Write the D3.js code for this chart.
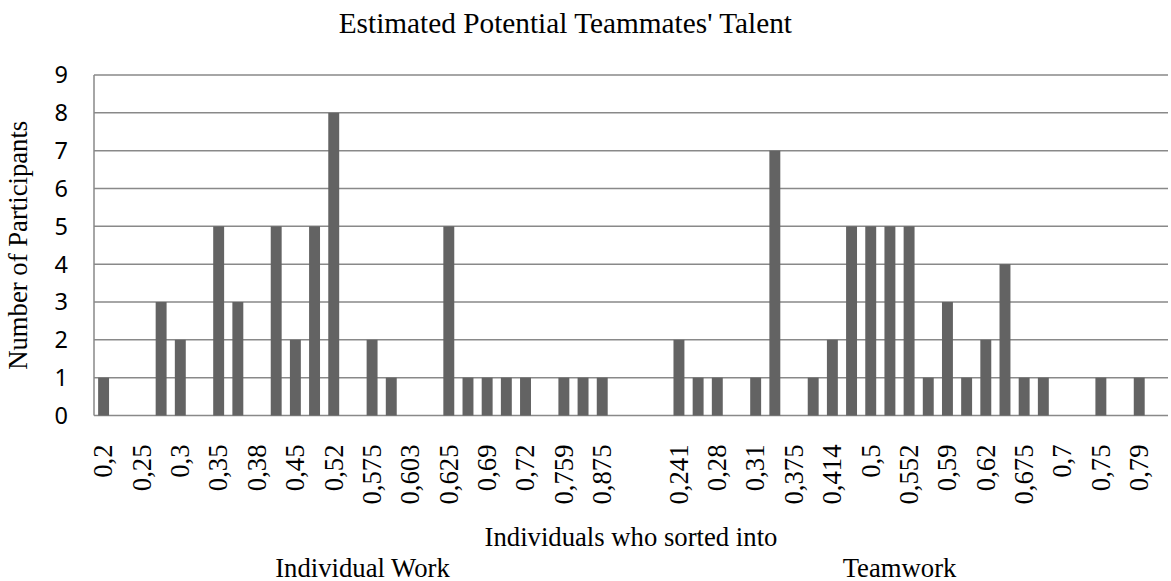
<!DOCTYPE html>
<html>
<head>
<meta charset="utf-8">
<script src="https://cdn.jsdelivr.net/npm/d3@7"></script>
<style>
  body { margin: 0; background: #fff; }
  .grid line { stroke: #898989; stroke-width: 1.5; }
  .bar { fill: #636363; }
  .serif { font-family: "Liberation Serif", "Times New Roman", serif; fill: #000; }
  .ylab { font-family: "Noto Sans", sans-serif; font-size: 23.5px; fill: #000; }
</style>
</head>
<body>
<svg class="chart" width="1171" height="581"></svg>
<script>
// Individual Work categories (every other one is labelled on the axis)
const individualLabels = ["0,2", "", "0,25", "", "0,3", "", "0,35", "", "0,38", "", "0,45", "", "0,52", "",
    "0,575", "", "0,603", "", "0,625", "", "0,69", "", "0,72", "", "0,759", "", "0,875", ""];
const individualCounts = [1, 0, 0, 3, 2, 0, 5, 3, 0, 5, 2, 5, 8, 0,
    2, 1, 0, 0, 5, 1, 1, 1, 1, 0, 1, 1, 1, 0];

// Teamwork categories
const teamworkLabels = ["", "", "0,241", "", "0,28", "", "0,31", "", "0,375", "", "0,414", "", "0,5", "",
    "0,552", "", "0,59", "", "0,62", "", "0,675", "", "0,7", "", "0,75", "", "0,79", ""];
const teamworkCounts = [0, 0, 2, 1, 1, 0, 1, 7, 0, 1, 2, 5, 5, 5,
    5, 1, 3, 1, 2, 4, 1, 1, 0, 0, 1, 0, 1, 0];

const groupNames = ["Individual Work", "Teamwork"];
const yTicks = [0, 1, 2, 3, 4, 5, 6, 7, 8, 9];

const data = individualLabels.map((l, i) => ({ key: "I" + i, group: 0, label: l, value: individualCounts[i] }))
    .concat(teamworkLabels.map((l, i) => ({ key: "T" + i, group: 1, label: l, value: teamworkCounts[i] })));

const svg = d3.select(".chart"),
    margin = { top: 75, right: 3, bottom: 165.5, left: 94 },
    width = +svg.attr("width") - margin.left - margin.right,
    height = +svg.attr("height") - margin.top - margin.bottom,
    g = svg.append("g").attr("transform", `translate(${margin.left},${margin.top})`);

const x = d3.scaleBand()
    .domain(data.map(d => d.key))
    .range([0, width])
    .paddingInner(0.43)
    .paddingOuter(0.215);

const y = d3.scaleLinear()
    .domain([0, 9])
    .range([height, 0]);

// gridlines
g.append("g")
    .attr("class", "grid")
    .selectAll("line")
    .data(yTicks)
    .enter().append("line")
    .attr("x1", 0)
    .attr("x2", width)
    .attr("y1", d => y(d))
    .attr("y2", d => y(d));

// left axis line
g.append("line")
    .attr("x1", 0).attr("x2", 0)
    .attr("y1", y(9)).attr("y2", y(0))
    .attr("stroke", "#898989").attr("stroke-width", 1.5);

g.selectAll(".ylab")
    .data(yTicks)
    .enter().append("text")
    .attr("class", "ylab")
    .attr("x", -26)
    .attr("y", d => y(d))
    .attr("dy", "0.36em")
    .attr("text-anchor", "end")
    .text(d => d);

g.selectAll(".bar")
    .data(data.filter(d => d.value > 0))
    .enter().append("rect")
    .attr("class", "bar")
    .attr("x", d => x(d.key))
    .attr("width", x.bandwidth())
    .attr("y", d => y(d.value))
    .attr("height", d => height - y(d.value));

// category labels, rotated
g.selectAll(".xlab")
    .data(data.filter(d => d.label !== ""))
    .enter().append("text")
    .attr("class", "serif xlab")
    .style("font-size", "26.7px")
    .attr("text-anchor", "end")
    .attr("transform", d => `translate(${x(d.key) + x.bandwidth() / 2},${height + 29}) rotate(-90)`)
    .attr("dy", "0.33em")
    .text(d => d.label);

// group labels, centred under each group of categories
g.selectAll(".glab")
    .data(groupNames)
    .enter().append("text")
    .attr("class", "serif glab")
    .style("font-size", "26.7px")
    .attr("text-anchor", "middle")
    .attr("x", (name, i) => {
        const keys = data.filter(d => d.group === i).map(d => d.key);
        return (x(keys[0]) + x(keys[keys.length - 1]) + x.bandwidth()) / 2;
    })
    .attr("y", height + 161)
    .text(d => d);

// axis title
g.append("text")
    .attr("class", "serif")
    .style("font-size", "26.7px")
    .attr("x", width / 2)
    .attr("y", height + 130)
    .attr("text-anchor", "middle")
    .text("Individuals who sorted into");

svg.append("text")
    .attr("class", "serif")
    .style("font-size", "26.7px")
    .attr("transform", `translate(27,${margin.top + height / 2}) rotate(-90)`)
    .attr("text-anchor", "middle")
    .text("Number of Participants");

// chart title
svg.append("text")
    .attr("class", "serif")
    .style("font-size", "29.3px")
    .attr("x", 792)
    .attr("y", 33)
    .attr("text-anchor", "end")
    .text("Estimated Potential Teammates' Talent");
</script>
</body>
</html>
